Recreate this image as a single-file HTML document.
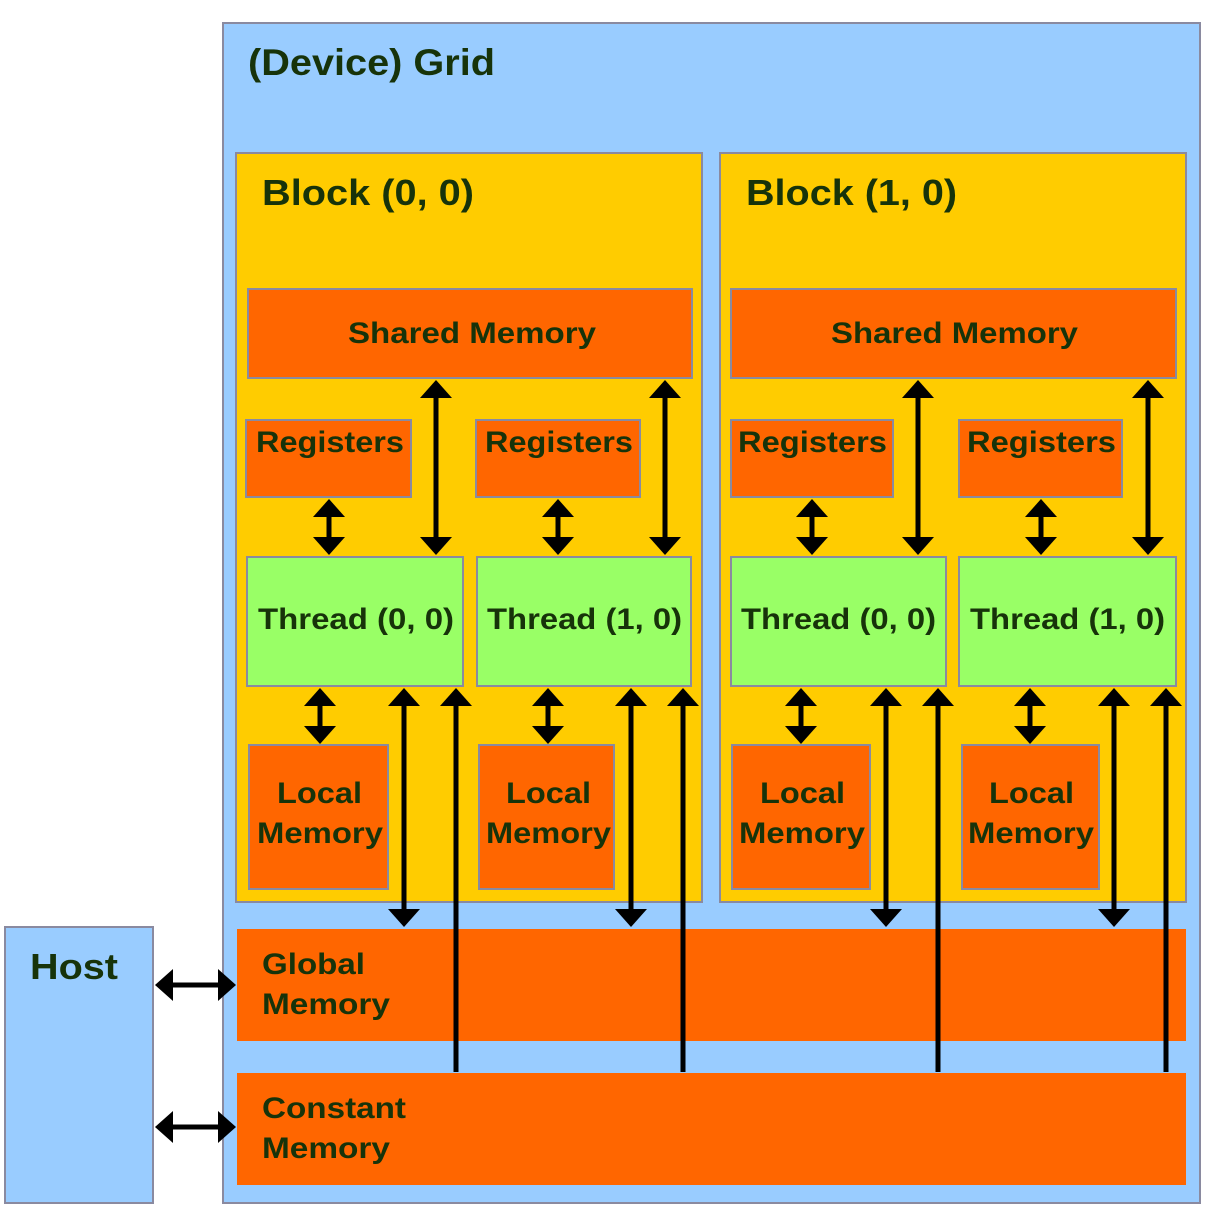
<!DOCTYPE html>
<html><head><meta charset="utf-8"><style>
html,body{margin:0;padding:0;background:#fff;}
svg{display:block;}
text{font-family:"Liberation Sans",sans-serif;font-weight:bold;fill:#17330a;}
</style></head><body>
<svg width="1212" height="1215" viewBox="0 0 1212 1215" xmlns="http://www.w3.org/2000/svg">
<defs>
<marker id="a" viewBox="0 0 18 32" refX="10" refY="16" markerWidth="3.6" markerHeight="6.4" markerUnits="strokeWidth" orient="auto-start-reverse">
<path d="M0,0 L18,16 L0,32 z" fill="#000"/></marker>
</defs>
<g stroke="#8a8aa0" stroke-width="2">
<rect x="223" y="23" width="977" height="1180" fill="#99ccff"/>
<rect x="5" y="927" width="148" height="276" fill="#99ccff"/>
<rect x="236" y="153" width="466" height="749" fill="#ffcc00"/>
<rect x="720" y="153" width="466" height="749" fill="#ffcc00"/>
<rect x="248" y="289" width="444" height="89" fill="#ff6600"/>
<rect x="731" y="289" width="445" height="89" fill="#ff6600"/>
<rect x="246" y="420" width="165" height="77" fill="#ff6600"/>
<rect x="476" y="420" width="164" height="77" fill="#ff6600"/>
<rect x="731" y="420" width="162" height="77" fill="#ff6600"/>
<rect x="959" y="420" width="163" height="77" fill="#ff6600"/>
<rect x="247" y="557" width="216" height="129" fill="#99ff66"/>
<rect x="477" y="557" width="214" height="129" fill="#99ff66"/>
<rect x="731" y="557" width="215" height="129" fill="#99ff66"/>
<rect x="959" y="557" width="217" height="129" fill="#99ff66"/>
<rect x="249" y="745" width="139" height="144" fill="#ff6600"/>
<rect x="479" y="745" width="135" height="144" fill="#ff6600"/>
<rect x="732" y="745" width="138" height="144" fill="#ff6600"/>
<rect x="962" y="745" width="137" height="144" fill="#ff6600"/>
</g>
<rect x="237" y="929" width="949" height="112" fill="#ff6600"/>
<rect x="237" y="1073" width="949" height="112" fill="#ff6600"/>

<g stroke="#000" stroke-width="5" fill="none">
<g marker-start="url(#a)" marker-end="url(#a)">
<line x1="329" y1="507" x2="329" y2="547"/>
<line x1="558" y1="507" x2="558" y2="547"/>
<line x1="812" y1="507" x2="812" y2="547"/>
<line x1="1041" y1="507" x2="1041" y2="547"/>
<line x1="436" y1="388" x2="436" y2="547"/>
<line x1="665" y1="388" x2="665" y2="547"/>
<line x1="918" y1="388" x2="918" y2="547"/>
<line x1="1148" y1="388" x2="1148" y2="547"/>
<line x1="320" y1="696" x2="320" y2="736"/>
<line x1="548" y1="696" x2="548" y2="736"/>
<line x1="801" y1="696" x2="801" y2="736"/>
<line x1="1030" y1="696" x2="1030" y2="736"/>
<line x1="404" y1="696" x2="404" y2="919"/>
<line x1="631" y1="696" x2="631" y2="919"/>
<line x1="886" y1="696" x2="886" y2="919"/>
<line x1="1114" y1="696" x2="1114" y2="919"/>
<line x1="163" y1="985" x2="228" y2="985"/>
<line x1="163" y1="1127" x2="228" y2="1127"/>
</g>
<g marker-end="url(#a)">
<line x1="456" y1="1072" x2="456" y2="696"/>
<line x1="683" y1="1072" x2="683" y2="696"/>
<line x1="938" y1="1072" x2="938" y2="696"/>
<line x1="1166" y1="1072" x2="1166" y2="696"/>
</g>
</g>

<g>
<text x="248" y="75" font-size="37" textLength="247" lengthAdjust="spacingAndGlyphs">(Device) Grid</text>
<text x="262" y="205" font-size="36" textLength="212" lengthAdjust="spacingAndGlyphs">Block (0, 0)</text>
<text x="746" y="205" font-size="36" textLength="211" lengthAdjust="spacingAndGlyphs">Block (1, 0)</text>
</g>
<g font-size="30">
<text x="348" y="343" textLength="248" lengthAdjust="spacingAndGlyphs">Shared Memory</text>
<text x="831" y="343" textLength="247" lengthAdjust="spacingAndGlyphs">Shared Memory</text>
<text x="256" y="452" textLength="148" lengthAdjust="spacingAndGlyphs">Registers</text>
<text x="485" y="452" textLength="148" lengthAdjust="spacingAndGlyphs">Registers</text>
<text x="738" y="452" textLength="149" lengthAdjust="spacingAndGlyphs">Registers</text>
<text x="967" y="452" textLength="149" lengthAdjust="spacingAndGlyphs">Registers</text>
<text x="258" y="629" textLength="196" lengthAdjust="spacingAndGlyphs">Thread (0, 0)</text>
<text x="487" y="629" textLength="195" lengthAdjust="spacingAndGlyphs">Thread (1, 0)</text>
<text x="741" y="629" textLength="195" lengthAdjust="spacingAndGlyphs">Thread (0, 0)</text>
<text x="970" y="629" textLength="195" lengthAdjust="spacingAndGlyphs">Thread (1, 0)</text>
<text x="277" y="803" textLength="85" lengthAdjust="spacingAndGlyphs">Local</text>
<text x="257" y="843" textLength="126" lengthAdjust="spacingAndGlyphs">Memory</text>
<text x="506" y="803" textLength="85" lengthAdjust="spacingAndGlyphs">Local</text>
<text x="486" y="843" textLength="125" lengthAdjust="spacingAndGlyphs">Memory</text>
<text x="760" y="803" textLength="85" lengthAdjust="spacingAndGlyphs">Local</text>
<text x="739" y="843" textLength="126" lengthAdjust="spacingAndGlyphs">Memory</text>
<text x="989" y="803" textLength="85" lengthAdjust="spacingAndGlyphs">Local</text>
<text x="968" y="843" textLength="126" lengthAdjust="spacingAndGlyphs">Memory</text>
<text x="262" y="974" textLength="103" lengthAdjust="spacingAndGlyphs">Global</text>
<text x="262" y="1014" textLength="128" lengthAdjust="spacingAndGlyphs">Memory</text>
<text x="262" y="1118" textLength="144" lengthAdjust="spacingAndGlyphs">Constant</text>
<text x="262" y="1158" textLength="128" lengthAdjust="spacingAndGlyphs">Memory</text>
</g>
<text x="30" y="979" font-size="36" textLength="88" lengthAdjust="spacingAndGlyphs">Host</text>
</svg>
</body></html>
